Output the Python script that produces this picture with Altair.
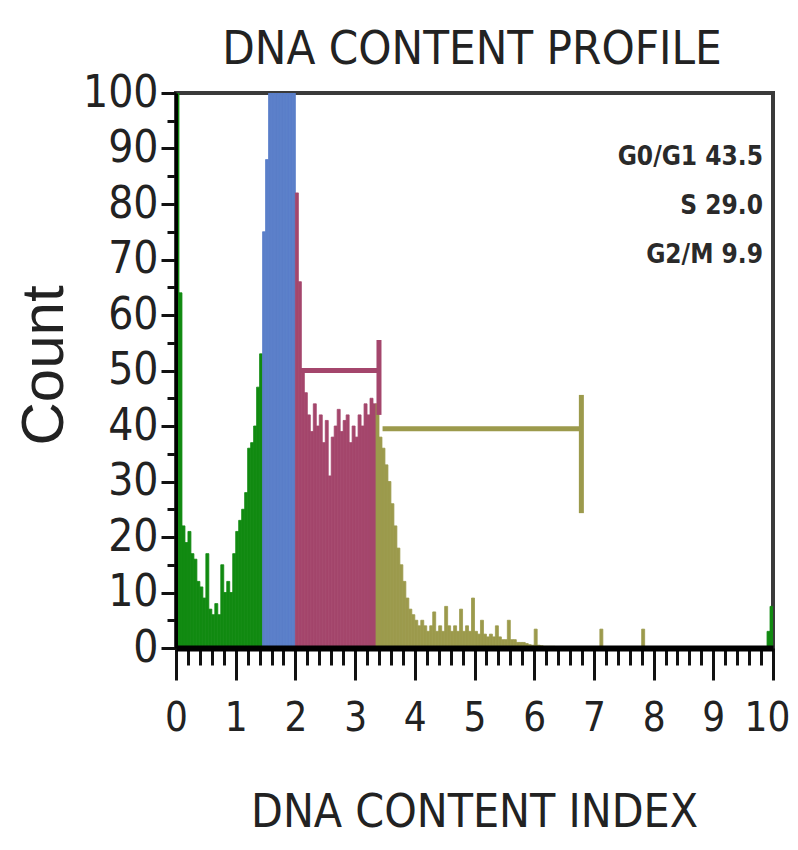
import altair as alt
import pandas as pd

BIN = 0.05

# Histogram counts per gated population (bin width 0.05, first bin start given)
DEBRIS_START = 0.0
DEBRIS_COUNTS = [100, 64, 22, 19, 21, 17, 16, 12, 11, 9, 17, 7, 6, 8, 6, 15, 10, 12,
                 10, 17, 21, 23, 25, 28, 36, 37, 40, 47, 53]
G1_START = 1.45
G1_COUNTS = [75, 88, 112, 140, 165, 180, 170, 150, 125, 108, 104]
S_START = 2.00
S_COUNTS = [82, 66, 50, 46, 42, 39, 44, 40, 42, 37, 41, 31, 38, 40, 43, 39, 41, 42,
            37, 40, 38, 42, 40, 44, 42, 45, 44]
G2M_START = 3.35
G2M_COUNTS = [44, 38, 36, 33, 30, 26, 22, 18, 15, 12, 9, 7, 6,
              5, 4, 5, 4, 3, 4, 6.5, 3, 4, 3, 7.5, 4, 3, 4, 3, 7, 3, 4, 3, 9,
              3, 2.5, 5, 2.5, 2, 2.5, 2, 4, 2, 1.5, 1.5, 5, 1.5, 1.5, 1, 1, 1, 0.8, 0.6, 0.5,
              3.4, 0.5, 0.4, 0.3, 0.3, 0.3, 0.3, 0.2, 0.2, 0.2, 0.2, 0.2, 0.2, 0.2, 0.2,
              0.2, 0.2, 0.2, 0.2, 0.2, 0.2, 0.2, 3.4, 0.2, 0.2, 0.2, 0.2, 0.2, 0.2, 0.2,
              0.2, 0.2, 0.2, 0.2, 0.2, 0.2, 3.4]
TAIL_START = 9.90
TAIL_COUNTS = [3, 7.5]

PHASES = ["Debris", "G0/G1", "S", "G2/M", "Tail"]
PHASE_COLORS = ["#118a11", "#5b7fc9", "#a4466c", "#9c9a4c", "#118a11"]

# Gates (markers)
GATE_NAMES = ["S", "G2/M"]
GATE_LO = [2.08, 3.46]
GATE_HI = [3.40, 6.79]
GATE_LEVEL = [50, 39.5]
GATE_END_LO = [42, 24.3]
GATE_END_HI = [55.5, 45.6]
GATE_COLORS = ["#a84d72", "#8c8b4e"]

# Texts
TITLE = "DNA CONTENT PROFILE"
X_TITLE = "DNA CONTENT INDEX"
Y_TITLE = "Count"
STATS = ["G0/G1 43.5", "S 29.0", "G2/M 9.9"]

X_TICKS = [round(i * 0.2, 1) for i in range(51)]
Y_TICKS = [i * 5 for i in range(21)]

rows = []
for phase, start, counts in [("Debris", DEBRIS_START, DEBRIS_COUNTS),
                             ("G0/G1", G1_START, G1_COUNTS),
                             ("S", S_START, S_COUNTS),
                             ("G2/M", G2M_START, G2M_COUNTS),
                             ("Tail", TAIL_START, TAIL_COUNTS)]:
    for i, c in enumerate(counts):
        s = round(start + i * BIN, 4)
        rows.append({"phase": phase, "start": s, "end": round(s + BIN, 4), "count": c})
hist = pd.DataFrame(rows)

gates = pd.DataFrame({"gate": GATE_NAMES, "lo": GATE_LO, "hi": GATE_HI,
                      "level": GATE_LEVEL, "elo": GATE_END_LO, "ehi": GATE_END_HI})

FONT_N = "DejaVu Sans Condensed, Liberation Sans Narrow, Arial Narrow, sans-serif"
FONT_R = "Liberation Sans, Arial, sans-serif"

xscale = alt.Scale(domain=[0, 10], nice=False, zero=False)
yscale = alt.Scale(domain=[0, 100], nice=False)

x_axis = alt.Axis(
    values=X_TICKS, tickCount=200,
    labelExpr="abs(datum.value - round(datum.value)) < 0.001 ? format(datum.value, 'd') : ''",
    tickSize={"condition": {"test": "abs(datum.value - round(datum.value)) > 0.001", "value": 17}, "value": 32},
    labelOffset={"condition": {"test": "datum.value > 9.9", "value": -6}, "value": 0},
    tickWidth=3, tickColor="#111",
    domainWidth=6, domainColor="#000",
    labelFont=FONT_N, labelFontSize=40, labelColor="#222",
    labelBaseline="alphabetic", labelPadding=50, labelOverlap=False, labelFlush=False,
    title=X_TITLE, titleFont=FONT_N, titleFontSize=46, titleFontWeight="normal",
    titleColor="#222", titleBaseline="alphabetic", titleY=178, titleX=298,
    grid=False, zindex=1,
)
y_axis = alt.Axis(
    values=Y_TICKS, tickCount=200,
    labelExpr="datum.value % 10 == 0 ? format(datum.value, 'd') : ''",
    tickSize={"condition": {"test": "datum.value % 10 != 0", "value": 9}, "value": 15},
    tickWidth=3, tickColor="#111",
    domainWidth=3, domainColor="#000",
    labelFont=FONT_N, labelFontSize=44, labelColor="#222",
    labelBaseline="middle", labelPadding=3, labelOverlap=False, labelFlush=False,
    title=Y_TITLE, titleFont=FONT_R, titleFontSize=60, titleFontWeight="normal",
    titleColor="#222", titleBaseline="alphabetic", titleX=-114, titleY=272, titleAngle=270,
    grid=False, zindex=1,
)

color_scale = alt.Scale(domain=PHASES, range=PHASE_COLORS)

bars = alt.Chart(hist).mark_rect(clip=True, strokeWidth=0.8).encode(
    x=alt.X("start:Q", scale=xscale, axis=x_axis),
    x2="end:Q",
    y=alt.Y("count:Q", scale=yscale, axis=y_axis),
    y2=alt.datum(0),
    color=alt.Color("phase:N", scale=color_scale, legend=None),
    stroke=alt.Stroke("phase:N", scale=color_scale, legend=None),
)

gate_scale = alt.Scale(domain=GATE_NAMES, range=GATE_COLORS)

gate_h = alt.Chart(gates).mark_rule(strokeWidth=5).encode(
    x="lo:Q", x2="hi:Q", y="level:Q",
    color=alt.Color("gate:N", scale=gate_scale, legend=None),
)
gate_v = alt.Chart(gates).mark_rule(strokeWidth=5).encode(
    x="hi:Q", y="elo:Q", y2="ehi:Q",
    color=alt.Color("gate:N", scale=gate_scale, legend=None),
)

stat_layers = []
for i, s in enumerate(STATS):
    stat_layers.append(
        alt.Chart(pd.DataFrame({"t": [s]})).mark_text(
            font=FONT_N, fontSize=26, fontWeight="bold", color="#2a2a2a",
            align="right", baseline="middle",
        ).encode(text="t:N", x=alt.value(587), y=alt.value(64 + i * 49))
    )

title_layer = alt.Chart(pd.DataFrame({"t": [TITLE]})).mark_text(
    font=FONT_N, fontSize=47, fontWeight="normal", color="#222",
    align="center", baseline="alphabetic",
).encode(text="t:N", x=alt.value(296), y=alt.value(-29))

chart = alt.layer(bars, gate_h, gate_v, title_layer, *stat_layers).properties(
    width=597, height=555,
    background="white",
    autosize=alt.AutoSizeParams(type="none"),
    padding={"left": 168, "top": 85, "right": 17, "bottom": 190},
).configure_view(stroke="#3a3a3a", strokeWidth=4)

chart.save("out.html", embed_options={"renderer": "svg", "actions": False})
